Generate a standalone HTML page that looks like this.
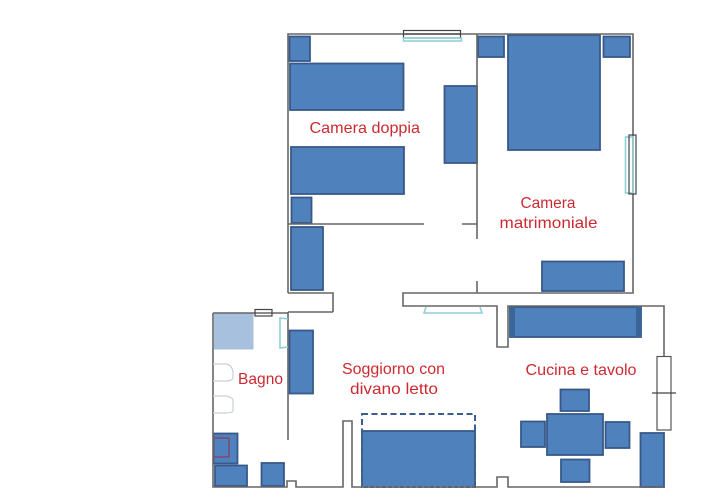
<!DOCTYPE html>
<html><head><meta charset="utf-8"><style>
html,body{margin:0;padding:0;background:#fff}
svg{display:block}
text{font-family:"Liberation Sans",sans-serif;font-size:16px;fill:#cc2a30}
.f{fill:#4f81bd;stroke:#38598a;stroke-width:1.8}
.w{fill:none;stroke:#666;stroke-width:1.6}
.d{fill:none;stroke:#444;stroke-width:1.2}
.c{fill:none;stroke:#8fd0d8;stroke-width:1.6}
.g{fill:none;stroke:#c9d0d6;stroke-width:1.2}
</style></head><body>
<svg width="711" height="500" viewBox="0 0 711 500" xmlns="http://www.w3.org/2000/svg">
<rect width="711" height="500" fill="#fff"/>
<!-- furniture -->
<rect class="f" x="289.500" y="36.500" width="20.500" height="24.500"/>
<rect class="f" x="290" y="63.500" width="113.500" height="46.500"/>
<rect class="f" x="291" y="147" width="113" height="47"/>
<rect class="f" x="444.500" y="86" width="32.500" height="77"/>
<rect class="f" x="478" y="36.500" width="26" height="20.500"/>
<rect class="f" x="508" y="35" width="92" height="115"/>
<rect class="f" x="603.500" y="36.500" width="26.500" height="20.500"/>
<rect class="f" x="291.500" y="197.500" width="20" height="25.500"/>
<rect class="f" x="291" y="227" width="32" height="63"/>
<rect class="f" x="542" y="261.500" width="82" height="29.500"/>
<rect class="f" x="510" y="307" width="131" height="30"/>
<rect x="510" y="307" width="5" height="30" fill="#3a6598"/>
<rect x="636" y="307" width="5" height="30" fill="#3a6598"/>
<rect class="f" x="289.500" y="330.500" width="23.500" height="63"/>
<rect x="214" y="313.500" width="39.500" height="36" fill="#a7c0de"/>
<rect class="f" x="213.500" y="433.500" width="24" height="30"/>
<rect x="213.500" y="438" width="15.500" height="19" fill="none" stroke="#8b3a62" stroke-width="1.2"/>
<rect class="f" x="215" y="465.500" width="32" height="20.500"/>
<rect class="f" x="261.500" y="463" width="22.500" height="23"/>
<rect class="f" x="362" y="431" width="113" height="56"/>
<rect x="362" y="414" width="113" height="73" fill="none" stroke="#3a5f8c" stroke-width="2" stroke-dasharray="6 3.500"/>
<path d="M362 487H475" stroke="#fff" stroke-width="1.500" stroke-dasharray="2 4" fill="none"/>
<rect class="f" x="560.500" y="389.500" width="28.500" height="21.500"/>
<rect class="f" x="547" y="414" width="56" height="41"/>
<rect class="f" x="521" y="421.500" width="24" height="25.500"/>
<rect class="f" x="605.500" y="422" width="24" height="26"/>
<rect class="f" x="561" y="459.500" width="28.500" height="22.500"/>
<rect class="f" x="640.500" y="433" width="23.500" height="54"/>
<!-- walls -->
<path class="w" d="M333 312H288M288 293V34H633V293H403V306H497V347H508V306H664V356"/>
<path class="w" d="M288 293H333V312"/>
<path class="w" d="M288 224H424M462 224H477M477 34V239M477 281V293"/>
<path class="w" d="M288 312V440M213 313H288M213 313V487H287V481H296V487H343V421H352V487H497V477H508V487H664"/>
<!-- fixtures -->
<path class="g" d="M213 364H226Q232 365 233 372V378Q232 381 226 381H213"/>
<path class="g" d="M213 396H226Q232 397 233 400V411Q232 413 226 413H213"/>
<!-- windows -->
<rect class="d" x="403.500" y="30.500" width="57" height="7.500"/>
<path class="d" d="M403.500 34H460.500"/>
<rect class="c" x="403.500" y="38" width="58" height="3"/>
<rect class="c" x="625.500" y="137" width="7.500" height="56"/>
<rect class="d" x="629" y="135" width="7" height="59"/>
<path class="c" d="M426 307L424 313H482L480 307"/>
<rect class="d" x="255" y="309.500" width="17" height="6.500"/>
<path class="c" d="M288 319L280 318V348L288 347"/>
<rect x="657" y="356.500" width="14" height="73.500" fill="#fff" stroke="#555" stroke-width="1.2"/>
<path class="d" d="M652 393H676"/>
<!-- labels -->
<text x="309.500" y="133" textLength="110.500" lengthAdjust="spacingAndGlyphs">Camera doppia</text>
<text x="520.500" y="208" textLength="55" lengthAdjust="spacingAndGlyphs">Camera</text>
<text x="499.500" y="228" textLength="98" lengthAdjust="spacingAndGlyphs">matrimoniale</text>
<text x="238" y="384" textLength="45" lengthAdjust="spacingAndGlyphs">Bagno</text>
<text x="342" y="374" textLength="103" lengthAdjust="spacingAndGlyphs">Soggiorno con</text>
<text x="350" y="394" textLength="88" lengthAdjust="spacingAndGlyphs">divano letto</text>
<text x="525.500" y="375" textLength="111" lengthAdjust="spacingAndGlyphs">Cucina e tavolo</text>
</svg>
</body></html>
